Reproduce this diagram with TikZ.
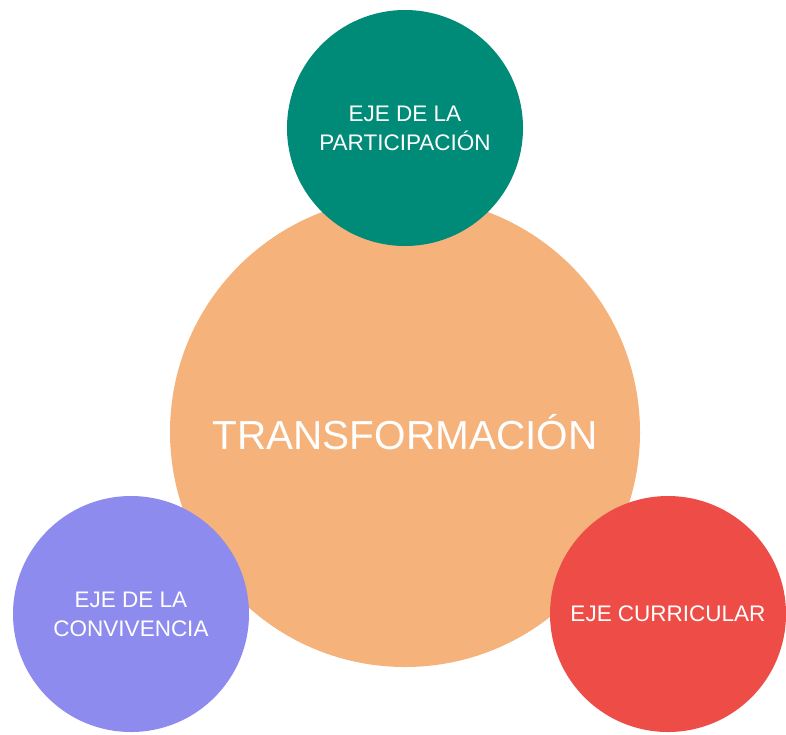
\documentclass[tikz,border=0pt]{standalone}
\usepackage{fontspec}
\setmainfont{Liberation Sans}
\usepackage{tikz}
\usetikzlibrary{positioning}
\definecolor{naranja}{HTML}{F6B27B}
\definecolor{verde}{HTML}{008A78}
\definecolor{morado}{HTML}{8E8BEE}
\definecolor{rojo}{HTML}{EE4D47}
\tikzstyle{centro} = [circle, minimum size=470pt, inner sep=0pt, fill=naranja, text=white, font=\fontsize{40.5}{48}\selectfont]
\tikzstyle{eje} = [circle, minimum size=236pt, inner sep=0pt, text=white, align=center, font=\fontsize{22.5}{29}\selectfont]

\begin{document}
\begin{tikzpicture}[x=1pt, y=-1pt]
		\useasboundingbox (0,0) rectangle (786,734);
		
		\node (trans) [centro] at (405,432) {TRANSFORMACIÓN};
		
		\node (part) [eje, fill=verde] at (405,128) {EJE DE LA\\PARTICIPACIÓN};
		
		\node (conv) [eje, fill=morado] at (131,614) {EJE DE LA\\CONVIVENCIA};
		
		\node (curr) [eje, fill=rojo] at (668,614) {EJE CURRICULAR};
		\end{tikzpicture}
\end{document}
